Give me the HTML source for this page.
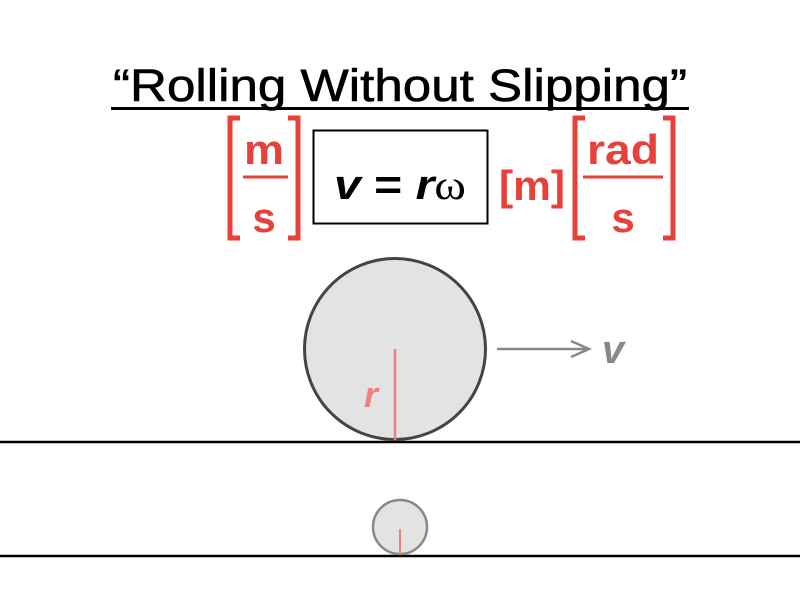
<!DOCTYPE html>
<html><head><meta charset="utf-8"><style>html,body{margin:0;padding:0;background:#fff;}svg{display:block}</style></head>
<body>
<svg width="800" height="600" xmlns="http://www.w3.org/2000/svg" font-family="Liberation Sans, sans-serif">
<text x="113" y="101" font-size="45" textLength="574" lengthAdjust="spacingAndGlyphs" fill="#000" stroke="#000" stroke-width="0.6">“Rolling Without Slipping”</text>
<line x1="111" y1="108.5" x2="689" y2="108.5" stroke="#000" stroke-width="3"/>
<g stroke="#e8403a" stroke-width="5" fill="none">
<polyline points="240,118 230,118 230,238 240,238"/>
<polyline points="288,118 298,118 298,238 288,238"/>
<polyline points="585,118 575,118 575,238 585,238"/>
<polyline points="663,118 673,118 673,238 663,238"/>
</g>
<line x1="243" y1="177" x2="288" y2="177" stroke="#e8403a" stroke-width="3"/>
<line x1="583" y1="177" x2="663" y2="177" stroke="#e8403a" stroke-width="3"/>
<g fill="#e8403a" font-size="42" font-weight="bold" text-anchor="middle">
<text x="264" y="164" textLength="40" lengthAdjust="spacingAndGlyphs">m</text>
<text x="264" y="232">s</text>
<text x="623" y="164" textLength="72" lengthAdjust="spacingAndGlyphs">rad</text>
<text x="623" y="232">s</text>
<text x="532" y="200" textLength="66" lengthAdjust="spacingAndGlyphs">[m]</text>
</g>
<rect x="313.5" y="130.5" width="174" height="93" fill="none" stroke="#000" stroke-width="2"/>
<text x="400" y="199" font-size="42" text-anchor="middle" fill="#000" font-weight="bold" textLength="132" lengthAdjust="spacingAndGlyphs"><tspan font-style="italic">v</tspan> = <tspan font-style="italic">r</tspan><tspan font-family="Liberation Serif, serif" font-weight="normal">ω</tspan></text>
<line x1="0" y1="442" x2="800" y2="442" stroke="#000" stroke-width="2.5"/>
<line x1="0" y1="556" x2="800" y2="556" stroke="#000" stroke-width="2.5"/>
<circle cx="395" cy="349" r="90.5" fill="#e3e3e3" stroke="#444" stroke-width="3"/>
<line x1="395" y1="349" x2="395" y2="440" stroke="#f08080" stroke-width="2.5"/>
<text x="371" y="407" font-size="36" font-style="italic" font-weight="bold" fill="#f08080" text-anchor="middle">r</text>
<line x1="497" y1="349" x2="589" y2="349" stroke="#888" stroke-width="2.5"/>
<polyline points="571,341 589,349 571,357" fill="none" stroke="#888" stroke-width="2.5"/>
<text x="613" y="363" font-size="40" font-style="italic" font-weight="bold" fill="#888" text-anchor="middle">v</text>
<circle cx="400" cy="527" r="27" fill="#e3e3e3" stroke="#888" stroke-width="2.5"/>
<line x1="400" y1="529" x2="400" y2="554" stroke="#f08080" stroke-width="2"/>
</svg>
</body></html>
